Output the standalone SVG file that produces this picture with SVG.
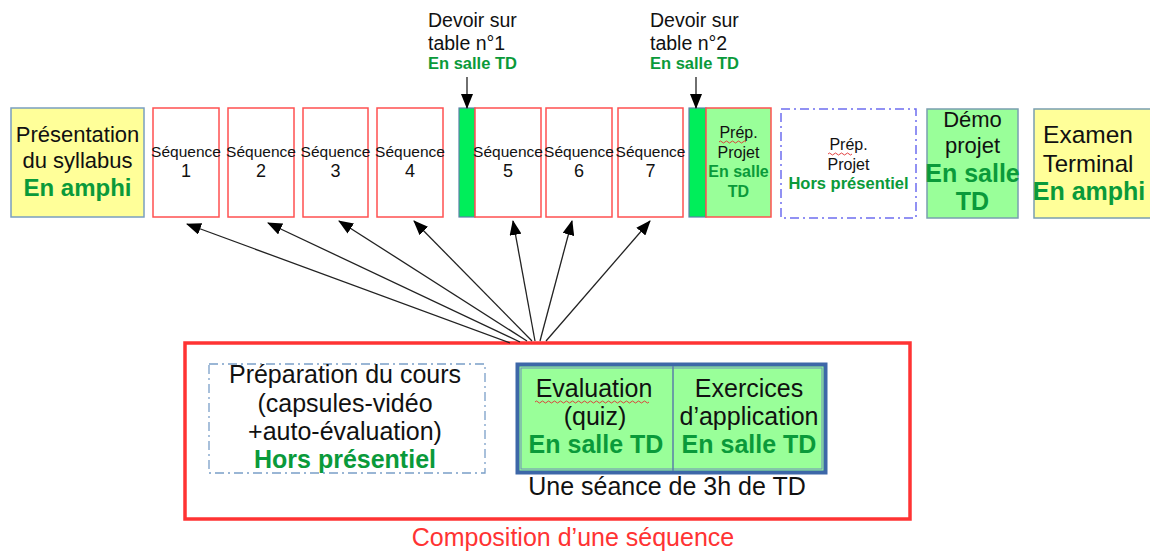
<svg xmlns="http://www.w3.org/2000/svg" width="1150" height="551" viewBox="0 0 1150 551">
<defs>
<marker id="ah" viewBox="0 0 15 12" refX="14" refY="6" markerWidth="15" markerHeight="12" markerUnits="userSpaceOnUse" orient="auto">
<path d="M0,0 L15,6 L0,12 Z" fill="#000"/>
</marker>
<style>
text{font-family:"Liberation Sans",Arial,sans-serif;fill:#111;text-anchor:middle}
.g{fill:#0a9a3a;font-weight:bold}
.seq{fill:#fff;stroke:#ff5050;stroke-width:1.5}
.s1{font-size:15.5px}
.s2{font-size:18px}
.bar{fill:#00ee5a;stroke:#5b7fa8;stroke-width:1.2}
.conn{stroke:#222;stroke-width:1.3;fill:none;marker-end:url(#ah)}
.wave{fill:none;stroke:#e03030;stroke-width:0.9}
</style>
</defs>
<rect width="1150" height="551" fill="#fff"/>

<g id="presentation">
<rect x="11" y="108" width="133" height="109" fill="#ffff99" stroke="#7a9fc0" stroke-width="1.5"/>
<text x="77.5" y="142" font-size="22">Présentation</text>
<text x="77.5" y="168" font-size="22">du syllabus</text>
<text x="77.5" y="196" font-size="24" class="g">En amphi</text>
</g>

<g id="seq1"><rect class="seq" x="153" y="108" width="66" height="109"/><text x="186" y="157" class="s1">Séquence</text><text x="186" y="177" class="s2">1</text></g>
<g id="seq2"><rect class="seq" x="228" y="108" width="66" height="109"/><text x="261" y="157" class="s1">Séquence</text><text x="261" y="177" class="s2">2</text></g>
<g id="seq3"><rect class="seq" x="303" y="108" width="65" height="109"/><text x="335.5" y="157" class="s1">Séquence</text><text x="335.5" y="177" class="s2">3</text></g>
<g id="seq4"><rect class="seq" x="377" y="108" width="66" height="109"/><text x="410" y="157" class="s1">Séquence</text><text x="410" y="177" class="s2">4</text></g>

<g id="devoir1">
<rect class="bar" x="459" y="108" width="16" height="109"/>
<text x="428" y="27" font-size="19.5" style="text-anchor:start">Devoir sur</text>
<text x="428" y="50" font-size="19.5" style="text-anchor:start">table n°1</text>
<text x="428" y="69" font-size="16.5" class="g" style="text-anchor:start">En salle TD</text>
</g>

<g id="seq5"><rect class="seq" x="475" y="108" width="66" height="109"/><text x="508" y="157" class="s1">Séquence</text><text x="508" y="177" class="s2">5</text></g>
<g id="seq6"><rect class="seq" x="546" y="108" width="66" height="109"/><text x="579" y="157" class="s1">Séquence</text><text x="579" y="177" class="s2">6</text></g>
<g id="seq7"><rect class="seq" x="618" y="108" width="65" height="109"/><text x="650.5" y="157" class="s1">Séquence</text><text x="650.5" y="177" class="s2">7</text></g>

<g id="devoir2">
<rect class="bar" x="689" y="108" width="17" height="109"/>
<text x="650" y="27" font-size="19.5" style="text-anchor:start">Devoir sur</text>
<text x="650" y="50" font-size="19.5" style="text-anchor:start">table n°2</text>
<text x="650" y="69" font-size="16.5" class="g" style="text-anchor:start">En salle TD</text>
</g>

<g id="prep-projet-td">
<rect x="706" y="108" width="65" height="109" fill="#99ff99" stroke="#ff5050" stroke-width="1.5"/>
<text x="738.5" y="138" font-size="16">Prép.</text>
<path class="wave" d="M719,142 q1.5,-2 3,0 t3,0 t3,0 t3,0 t3,0 t3,0 t3,0 t3,0 t3,0"/>
<text x="738.5" y="158" font-size="16">Projet</text>
<text x="738.5" y="177" font-size="16" class="g">En salle</text>
<text x="738.5" y="197" font-size="16" class="g">TD</text>
</g>

<g id="prep-projet-hors">
<rect x="781" y="109" width="135" height="109" fill="#fff" stroke="#6d6df0" stroke-width="1.5" stroke-dasharray="9,4,2,4"/>
<text x="848.5" y="150" font-size="16">Prép.</text>
<path class="wave" d="M828,154 q1.5,-2 3,0 t3,0 t3,0 t3,0 t3,0 t3,0 t3,0 t3,0"/>
<text x="848.5" y="170" font-size="16">Projet</text>
<text x="848.5" y="189" font-size="16.5" class="g">Hors présentiel</text>
</g>

<g id="demo-projet">
<rect x="927" y="109" width="91" height="109" fill="#99ff99" stroke="#7a9fb0" stroke-width="1.5"/>
<text x="972.5" y="127" font-size="22">Démo</text>
<text x="972.5" y="153" font-size="22">projet</text>
<text x="972.5" y="182" font-size="25" class="g">En salle</text>
<text x="972.5" y="210" font-size="25" class="g">TD</text>
</g>

<g id="examen">
<rect x="1034" y="109" width="120" height="109" fill="#ffff99" stroke="#7a9fb0" stroke-width="1.5"/>
<text x="1088" y="143" font-size="24.5">Examen</text>
<text x="1088" y="172" font-size="24">Terminal</text>
<text x="1089" y="200" font-size="25" class="g">En amphi</text>
</g>

<g id="composition">
<rect x="185" y="343" width="725" height="176" fill="#fff" stroke="#ff3333" stroke-width="3.5"/>
<text x="573" y="546" font-size="25" style="fill:#ff3333">Composition d’une séquence</text>
</g>

<g id="preparation-cours">
<rect x="209" y="364" width="276" height="109" fill="#fff" stroke="#7a9fc8" stroke-width="1.3" stroke-dasharray="9,4,2,4"/>
<text x="345" y="383" font-size="25">Préparation du cours</text>
<text x="345" y="412" font-size="25">(capsules-vidéo</text>
<text x="345" y="440" font-size="25">+auto-évaluation)</text>
<text x="345" y="468" font-size="25" class="g">Hors présentiel</text>
</g>

<g id="seance-td">
<rect x="517.5" y="364.5" width="308" height="108" fill="#99ff99" stroke="#3d67a8" stroke-width="4"/>
<rect x="521" y="368" width="301" height="101" fill="none" stroke="#6f8fb8" stroke-width="1"/>
<line x1="673" y1="366" x2="673" y2="471" stroke="#5b7fa8" stroke-width="1.5"/>
<text x="594" y="397" font-size="25">Evaluation</text>
<path class="wave" d="M535,402 q1.5,-2 3,0 t3,0 t3,0 t3,0 t3,0 t3,0 t3,0 t3,0 t3,0 t3,0 t3,0 t3,0 t3,0 t3,0 t3,0 t3,0 t3,0 t3,0 t3,0 t3,0 t3,0 t3,0 t3,0 t3,0 t3,0 t3,0 t3,0 t3,0 t3,0 t3,0 t3,0 t3,0 t3,0 t3,0 t3,0 t3,0 t3,0 t3,0"/>
<text x="595" y="425" font-size="25">(quiz)</text>
<text x="596" y="453" font-size="25" class="g">En salle TD</text>
<text x="749" y="397" font-size="25">Exercices</text>
<text x="749" y="425" font-size="25">d’application</text>
<text x="749" y="453" font-size="25" class="g">En salle TD</text>
<text x="667" y="495" font-size="25">Une séance de 3h de TD</text>
</g>

<g id="connectors">
<line class="conn" x1="510" y1="343" x2="187" y2="224"/>
<line class="conn" x1="520" y1="342" x2="268" y2="223"/>
<line class="conn" x1="527" y1="341" x2="339" y2="221"/>
<line class="conn" x1="532" y1="341" x2="414" y2="221"/>
<line class="conn" x1="535" y1="341" x2="513" y2="221"/>
<line class="conn" x1="540" y1="341" x2="572" y2="221"/>
<line class="conn" x1="546" y1="341" x2="650" y2="221"/>
<line class="conn" x1="467" y1="77" x2="467" y2="108"/>
<line class="conn" x1="696" y1="77" x2="696" y2="108"/>
</g>
</svg>
